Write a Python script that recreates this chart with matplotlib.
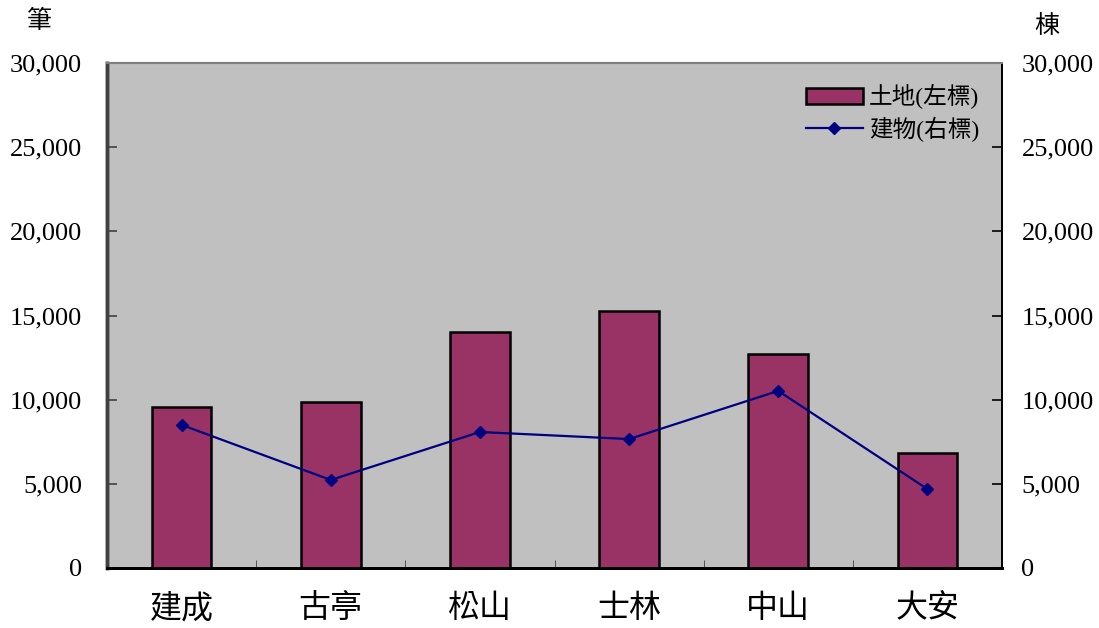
import matplotlib
matplotlib.use("Agg")
import matplotlib.pyplot as plt
from matplotlib.ticker import FuncFormatter, FixedLocator
import numpy as np

categories = ["建成", "古亭", "松山", "士林", "中山", "大安"]
land = [9560, 9860, 14020, 15270, 12710, 6830]
building = [8500, 5230, 8080, 7660, 10520, 4690]
yticks = [0, 5000, 10000, 15000, 20000, 25000, 30000]

fam = ["Liberation Serif", "Noto Sans CJK TC", "DejaVu Sans"]
plt.rcParams["font.family"] = fam

fig = plt.figure(figsize=(10.99, 6.28), dpi=100)
ax = fig.add_axes([107/1099, 60/628, 895/1099, 505/628])
ax2 = ax.twinx()
ax.set_facecolor("#C0C0C0")

x = np.arange(len(categories))
ax.bar(x, land, width=0.4, color="#993366", edgecolor="black", linewidth=1.8, label="土地(左標)", zorder=2)
ax2.plot(x, building, color="#000080", linewidth=1.6, marker="D", markersize=6.5, label="建物(右標)", zorder=3)

for a in (ax, ax2):
    a.set_ylim(0, 30000)
    a.set_yticks(yticks)
    a.yaxis.set_major_formatter(FuncFormatter(lambda v, p: f"{int(v):,}"))
    a.tick_params(axis="y", labelsize=19, length=7, width=1.2, direction="in")
ax.tick_params(axis="y", colors="#404040", labelcolor="black", pad=18)
ax2.tick_params(axis="y", pad=14)
ax.set_xlim(-0.5, len(categories) - 0.5)
ax.set_xticks(x)
ax.set_xticklabels(categories, fontsize=23)
ax.tick_params(axis="x", length=0, pad=19)
ax.xaxis.set_minor_locator(FixedLocator(np.arange(0.5, len(categories) - 1, 1.0)))
ax.tick_params(axis="x", which="minor", direction="in", length=6, color="#404040")

for a in (ax, ax2):
    a.spines["top"].set_color("#808080")
    a.spines["top"].set_linewidth(1.5)
    a.spines["bottom"].set_linewidth(2)
    a.spines["left"].set_color("#404040")
    a.spines["left"].set_linewidth(2.5)
    a.spines["right"].set_linewidth(1.3)

ax.text(-0.075, 1.06, "筆", transform=ax.transAxes, ha="center", va="bottom", fontsize=18)
ax.text(1.05, 1.05, "棟", transform=ax.transAxes, ha="center", va="bottom", fontsize=18)

h1, l1 = ax.get_legend_handles_labels()
h2, l2 = ax2.get_legend_handles_labels()
leg = ax2.legend(h1 + h2, l1 + l2, loc="upper right", bbox_to_anchor=(0.998, 1.0), frameon=False,
                 fontsize=17, handlelength=2.4, handletextpad=0.25, labelspacing=0.3)

fig.savefig("out.png", dpi=100)
